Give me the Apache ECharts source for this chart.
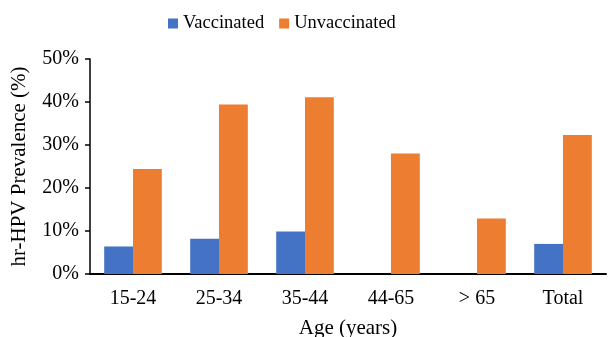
<!DOCTYPE html>
<html>
<head>
<meta charset="utf-8">
<script src="https://cdn.jsdelivr.net/npm/echarts@6/dist/echarts.min.js"></script>
<style>
  html, body { margin: 0; padding: 0; background: #fff; }
  #main { width: 608px; height: 337px; }
</style>
</head>
<body>
<div id="main"></div>
<script>
var ageGroups = ["15-24", "25-34", "35-44", "44-65", "> 65", "Total"];
var vaccinated = [6.4, 8.2, 9.9, 0, 0, 7.0];
var unvaccinated = [24.4, 39.4, 41.1, 28.0, 12.9, 32.3];
var yTicks = [0, 10, 20, 30, 40, 50];

var serif = "Liberation Serif";
var myChart = echarts.init(document.getElementById("main"));
myChart.setOption({
    animation: false,
    textStyle: { fontFamily: serif },
    legend: {
        top: 9,
        left: 163,
        itemWidth: 10,
        itemHeight: 10,
        itemGap: 15,
        icon: "rect",
        textStyle: { fontFamily: serif, fontSize: 18.5, color: "#000" },
        data: ["Vaccinated", "Unvaccinated"]
    },
    grid: {
        left: 90,
        right: 2,
        top: 59,
        bottom: 63,
        containLabel: false,
        outerBoundsMode: "none"
    },
    xAxis: {
        type: "category",
        data: ageGroups,
        name: "Age (years)",
        nameLocation: "middle",
        nameGap: 44,
        nameTextStyle: { fontFamily: serif, fontSize: 21, color: "#000" },
        axisLine: { lineStyle: { color: "#000", width: 2 } },
        axisTick: { show: false },
        axisLabel: { fontFamily: serif, fontSize: 20, color: "#000", margin: 15 }
    },
    yAxis: {
        type: "value",
        min: yTicks[0],
        max: yTicks[yTicks.length - 1],
        interval: 10,
        name: "hr-HPV Prevalence (%)",
        nameLocation: "middle",
        nameGap: 60,
        nameTextStyle: { fontFamily: serif, fontSize: 21, color: "#000" },
        axisLine: { show: true, lineStyle: { color: "#000", width: 1.5 } },
        axisTick: { show: true, length: 5, lineStyle: { color: "#000", width: 1.5 } },
        axisLabel: { fontFamily: serif, fontSize: 20, color: "#000", margin: 11, formatter: "{value}%" },
        splitLine: { show: false }
    },
    series: [
        {
            name: "Vaccinated",
            type: "bar",
            data: vaccinated,
            barGap: "0%",
            barCategoryGap: "33%",
            itemStyle: { color: "#4472C4" }
        },
        {
            name: "Unvaccinated",
            type: "bar",
            data: unvaccinated,
            barGap: "0%",
            barCategoryGap: "33%",
            itemStyle: { color: "#ED7D31" }
        }
    ]
});
</script>
</body>
</html>
